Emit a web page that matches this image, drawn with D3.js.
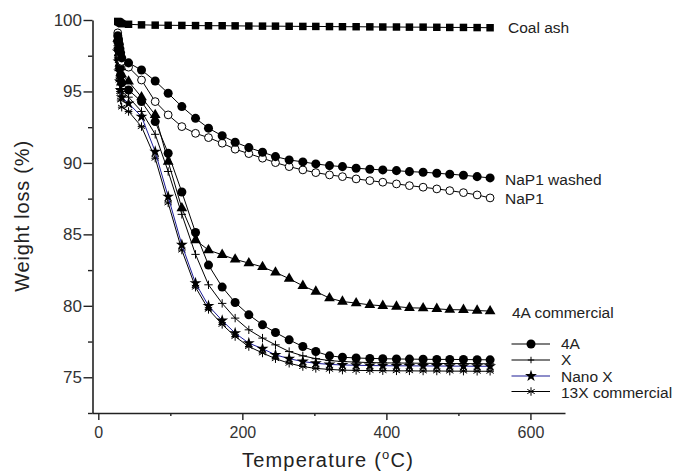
<!DOCTYPE html>
<html><head><meta charset="utf-8">
<script src="https://cdn.jsdelivr.net/npm/d3@7"></script>
<style>body{margin:0;background:#fff}text{font-family:"Liberation Sans",Arial,sans-serif}</style>
</head><body><svg id="c" width="674" height="476"></svg>
<script>
// ---- data ----
const startTemps = [27, 28, 29, 30, 31, 32.5];
const temps = [42, 60, 79, 97, 116, 135, 153, 172, 190, 209, 228, 246, 265, 284, 302, 321, 339, 358, 377, 395, 414, 432, 451, 470, 488, 507, 526, 544];

const coalAshStart = [99.9, 99.88, 99.85, 99.82, 99.78, 99.74];
const coalAsh = [99.7, 99.66, 99.64, 99.63, 99.62, 99.61, 99.6, 99.6, 99.59, 99.58, 99.57, 99.57, 99.56, 99.55, 99.55, 99.54, 99.53, 99.53, 99.52, 99.51, 99.51, 99.5, 99.5, 99.49, 99.48, 99.48, 99.47, 99.46];

const nap1WashedStart = [98.9, 98.6, 98.3, 98.0, 97.7, 97.35];
const nap1Washed = [97.0, 96.5, 95.73, 94.87, 93.94, 93.12, 92.43, 91.9, 91.45, 91.07, 90.75, 90.44, 90.21, 90.07, 89.93, 89.81, 89.74, 89.63, 89.56, 89.51, 89.46, 89.39, 89.35, 89.28, 89.21, 89.14, 89.04, 88.95];

const nap1Start = [99.1, 98.7, 98.3, 97.9, 97.5, 97.1];
const nap1 = [96.7, 95.8, 94.29, 93.36, 92.54, 92.07, 91.77, 91.38, 90.96, 90.65, 90.33, 90.02, 89.74, 89.51, 89.32, 89.16, 89.04, 88.88, 88.76, 88.65, 88.53, 88.41, 88.30, 88.18, 88.06, 87.92, 87.76, 87.55];

const a4CommStart = [98.7, 98.2, 97.7, 97.2, 96.7, 96.2];
const a4Comm = [95.7, 94.6, 93.36, 90.09, 86.83, 84.6, 83.9, 83.57, 83.25, 82.99, 82.72, 82.34, 81.9, 81.4, 81.0, 80.54, 80.3, 80.19, 80.07, 80.0, 79.95, 79.86, 79.84, 79.79, 79.73, 79.72, 79.67, 79.63];

const a4Start = [98.5, 97.9, 97.3, 96.7, 96.1, 95.6];
const a4 = [95.1, 94.29, 92.89, 90.68, 87.96, 85.13, 82.85, 81.31, 80.23, 79.37, 78.67, 78.13, 77.62, 77.15, 76.8, 76.5, 76.4, 76.35, 76.32, 76.3, 76.28, 76.27, 76.26, 76.25, 76.25, 76.24, 76.23, 76.22];

const xStart = [98.2, 97.5, 96.8, 96.1, 95.5, 95.0];
const xZeo = [94.6, 93.6, 92.0, 89.4, 86.4, 83.6, 81.47, 80.17, 79.14, 78.32, 77.74, 77.27, 76.8, 76.5, 76.3, 76.17, 76.1, 76.06, 76.03, 76.01, 76.0, 75.99, 75.98, 75.97, 75.96, 75.96, 75.95, 75.94];

const nanoXStart = [97.8, 97.1, 96.4, 95.7, 95.1, 94.6];
const nanoX = [94.17, 93.24, 90.79, 87.64, 84.27, 81.59, 80.0, 78.97, 78.09, 77.39, 77.0, 76.57, 76.3, 76.1, 75.98, 75.9, 75.86, 75.84, 75.82, 75.81, 75.8, 75.8, 75.79, 75.79, 75.78, 75.78, 75.77, 75.77];

const x13Start = [97.4, 96.6, 95.8, 95.0, 94.4, 93.9];
const x13 = [93.6, 92.54, 90.33, 87.2, 83.9, 81.3, 79.75, 78.7, 77.85, 77.15, 76.7, 76.3, 75.98, 75.75, 75.62, 75.55, 75.5, 75.48, 75.47, 75.46, 75.45, 75.45, 75.44, 75.44, 75.43, 75.43, 75.42, 75.42];

const yTicks = [75, 80, 85, 90, 95, 100];
const yMinor = [72.5, 77.5, 82.5, 87.5, 92.5, 97.5];
const xTicks = [0, 200, 400, 600];
const xMinor = [100, 300, 500];

// ---- chart ----
const svg = d3.select('#c');
const x = d3.scaleLinear().domain([-8.75, 648]).range([92, 565]);
const y = d3.scaleLinear().domain([72.5, 100]).range([413, 20]);

const plus = {draw(c, s){const r = Math.sqrt(s)/2; c.moveTo(-r,0); c.lineTo(r,0); c.moveTo(0,-r); c.lineTo(0,r);}};
const aster = {draw(c, s){const r = Math.sqrt(s)/2; for (let i=0;i<3;i++){const a = Math.PI/2 + i*Math.PI/3; c.moveTo(-r*Math.cos(a), -r*Math.sin(a)); c.lineTo(r*Math.cos(a), r*Math.sin(a));} c.moveTo(-r*0.9,0); c.lineTo(r*0.9,0);}};

const symDefs = {
  square: {type: d3.symbolSquare, size: 56, fill: '#000', stroke: 'none'},
  circle: {type: d3.symbolCircle, size: 64, fill: '#000', stroke: 'none'},
  open: {type: d3.symbolCircle, size: 48, fill: '#fff', stroke: '#000'},
  triangle: {type: d3.symbolTriangle, size: 50, fill: '#000', stroke: 'none'},
  star: {type: d3.symbolStar, size: 44, fill: '#000', stroke: 'none'},
  plus: {type: plus, size: 70, fill: 'none', stroke: '#000'},
  aster: {type: aster, size: 72, fill: 'none', stroke: '#000'}
};

const series = [
  {start: x13Start, vals: x13, sym: 'aster', color: '#000'},
  {start: nanoXStart, vals: nanoX, sym: 'star', color: '#1c1c96'},
  {start: xStart, vals: xZeo, sym: 'plus', color: '#000'},
  {start: a4Start, vals: a4, sym: 'circle', color: '#000'},
  {start: a4CommStart, vals: a4Comm, sym: 'triangle', color: '#000'},
  {start: nap1Start, vals: nap1, sym: 'open', color: '#000'},
  {start: nap1WashedStart, vals: nap1Washed, sym: 'circle', color: '#000'},
  {start: coalAshStart, vals: coalAsh, sym: 'square', color: '#000'}
];

const line = d3.line().x(d => x(d[0])).y(d => y(d[1]));
series.forEach(s => {
  const pts = startTemps.map((t, i) => [t, s.start[i]]).concat(temps.map((t, i) => [t, s.vals[i]]));
  svg.append('path').attr('d', line(pts)).attr('fill', 'none').attr('stroke', s.color).attr('stroke-width', 1);
  const sd = symDefs[s.sym];
  svg.append('g').selectAll('path').data(pts).join('path')
    .attr('transform', d => `translate(${x(d[0])},${y(d[1])})`)
    .attr('d', d3.symbol().type(sd.type).size(sd.size))
    .attr('fill', sd.fill).attr('stroke', sd.stroke).attr('stroke-width', 1);
});

// axes
const axCol = '#222', lblCol = '#333';
const gy = svg.append('g').attr('transform', 'translate(92.5,0)')
  .call(d3.axisLeft(y).tickValues(yTicks).tickSize(9).tickSizeOuter(0).tickPadding(1.5).tickFormat(d3.format('d')));
svg.append('g').attr('transform', 'translate(92.5,0)')
  .call(d3.axisLeft(y).tickValues(yMinor).tickSize(4.5).tickFormat('')).call(g => g.select('.domain').remove());
const gx = svg.append('g').attr('transform', 'translate(0,413)')
  .call(d3.axisBottom(x).tickValues(xTicks).tickSize(7).tickSizeOuter(0).tickPadding(7).tickFormat(d3.format('d')));
svg.append('g').attr('transform', 'translate(0,413)')
  .call(d3.axisBottom(x).tickValues(xMinor).tickSize(3).tickFormat('')).call(g => g.select('.domain').remove());
svg.selectAll('.domain').attr('stroke', axCol).attr('stroke-width', 1.6);
svg.selectAll('.tick line').attr('stroke', axCol).attr('stroke-width', 1.4);
gy.selectAll('text').attr('font-size', 17).attr('fill', lblCol).style('font-family', '"Liberation Sans",Arial,sans-serif');
gx.selectAll('text').attr('font-size', 16).attr('fill', lblCol).style('font-family', '"Liberation Sans",Arial,sans-serif');

// titles
svg.append('text').attr('transform', 'translate(29,216) rotate(-90)').attr('text-anchor', 'middle')
  .attr('font-size', 20).attr('letter-spacing', 0.8).attr('fill', '#222').text('Weight loss (%)');
const xt = svg.append('text').attr('x', 328).attr('y', 467).attr('text-anchor', 'middle')
  .attr('font-size', 20).attr('letter-spacing', 1.2).attr('fill', '#222');
xt.append('tspan').text('Temperature (');
xt.append('tspan').attr('font-size', 13).attr('dy', -8).text('o');
xt.append('tspan').attr('dy', 8).text('C)');

// annotations
const labels = [
  {t: 'Coal ash', x: 508, y: 33},
  {t: 'NaP1 washed', x: 505, y: 185},
  {t: 'NaP1', x: 505, y: 204},
  {t: '4A commercial', x: 512, y: 317.5}
];
labels.forEach(l => svg.append('text').attr('x', l.x).attr('y', l.y).attr('font-size', 15.5).attr('fill', '#222').text(l.t));

// legend
const legendItems = [
  {t: '4A', sym: 'circle', color: '#000', ly: 344, ty: 348.5},
  {t: 'X', sym: 'plus', color: '#000', ly: 360, ty: 365},
  {t: 'Nano X', sym: 'star', color: '#1c1c96', ly: 376, ty: 381.5},
  {t: '13X commercial', sym: 'aster', color: '#000', ly: 391.5, ty: 398}
];
legendItems.forEach(l => {
  svg.append('line').attr('x1', 511.5).attr('x2', 550).attr('y1', l.ly).attr('y2', l.ly).attr('stroke', l.color).attr('stroke-width', 1.2);
  const sd = symDefs[l.sym];
  svg.append('path').attr('transform', `translate(531,${l.ly})`).attr('d', d3.symbol().type(sd.type).size(sd.size * (l.sym === 'plus' ? 0.6 : 1)))
    .attr('fill', sd.fill).attr('stroke', sd.stroke).attr('stroke-width', 1);
  svg.append('text').attr('x', 561).attr('y', l.ty).attr('font-size', 15.5).attr('fill', '#222').text(l.t);
});
</script></body></html>
